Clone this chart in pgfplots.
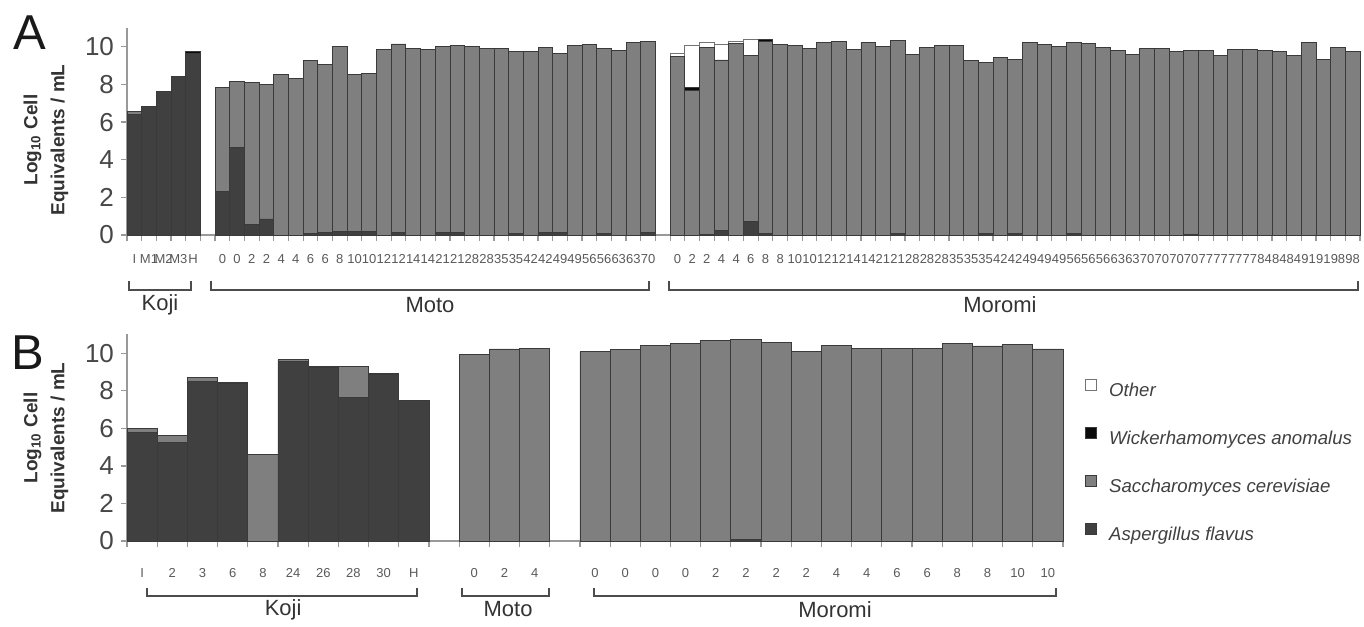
\documentclass[border=0pt]{standalone}
\usepackage{pgfplots}
\pgfplotsset{compat=1.18}
\usepackage{pgfplotstable}
\usepackage{fontspec}
\setmainfont{Liberation Sans}
\definecolor{asp}{HTML}{404040}
\definecolor{sac}{HTML}{7F7F7F}
\definecolor{wic}{HTML}{0A0A0A}
\definecolor{edge}{HTML}{3A3A3A}
\definecolor{txt}{HTML}{333333}
\definecolor{axl}{HTML}{999999}
\tikzset{tk/.style={draw=axl, line width=0.6pt}}

\pgfplotstableread{
x asp sac wic oth
0 6.40 0.18 0 0
1 6.81 0 0 0
2 7.65 0 0 0
3 8.41 0 0 0
4 9.65 0 0.08 0
6 2.30 5.54 0 0
7 4.64 3.54 0 0
8 0.57 7.54 0 0
9 0.85 7.17 0 0
10 0 8.52 0 0
11 0 8.32 0 0
12 0.10 9.19 0 0
13 0.15 8.90 0 0
14 0.20 9.82 0 0
15 0.20 8.34 0 0
16 0.20 8.38 0 0
17 0 9.84 0 0
18 0.15 10.00 0 0
19 0 9.89 0 0
20 0 9.84 0 0
21 0.15 9.88 0 0
22 0.15 9.92 0 0
23 0 10.04 0 0
24 0 9.92 0 0
25 0 9.92 0 0
26 0.10 9.64 0 0
27 0 9.74 0 0
28 0.12 9.84 0 0
29 0.15 9.50 0 0
30 0 10.09 0 0
31 0 10.12 0 0
32 0.10 9.81 0 0
33 0 9.82 0 0
34 0 10.21 0 0
35 0.15 10.13 0 0
37 0 9.47 0 0.18
38 0 7.70 0.15 2.20
39 0.05 9.93 0 0.27
40 0.25 9.05 0 0.85
41 0 10.20 0 0.08
42 0.70 8.86 0 0.83
43 0.10 10.20 0.10 0
44 0 10.14 0 0
45 0 10.09 0 0
46 0 9.91 0 0
47 0 10.21 0 0
48 0 10.27 0 0
49 0 9.86 0 0
50 0 10.21 0 0
51 0 10.04 0 0
52 0.10 10.22 0 0
53 0 9.60 0 0
54 0 9.96 0 0
55 0 10.09 0 0
56 0 10.09 0 0
57 0 9.29 0 0
58 0.10 9.05 0 0
59 0 9.43 0 0
60 0.10 9.23 0 0
61 0 10.21 0 0
62 0 10.14 0 0
63 0 10.04 0 0
64 0.10 10.11 0 0
65 0 10.18 0 0
66 0 9.96 0 0
67 0 9.82 0 0
68 0 9.61 0 0
69 0 9.91 0 0
70 0 9.91 0 0
71 0 9.74 0 0
72 0.05 9.77 0 0
73 0 9.82 0 0
74 0 9.56 0 0
75 0 9.88 0 0
76 0 9.88 0 0
77 0 9.82 0 0
78 0 9.74 0 0
79 0 9.56 0 0
80 0 10.21 0 0
81 0 9.33 0 0
82 0 9.96 0 0
83 0 9.74 0 0
}\tabA

\pgfplotstableread{
x asp sac wic oth
0 5.80 0.20 0 0
1 5.25 0.35 0 0
2 8.50 0.20 0 0
3 8.40 0 0.05 0
4 0 4.62 0 0
5 9.55 0.10 0 0
6 9.25 0 0.05 0
7 7.65 1.67 0 0
8 8.88 0 0.05 0
9 7.51 0 0 0
11 0 9.94 0 0
12 0 10.23 0 0
13 0 10.25 0 0
15 0 10.09 0 0
16 0 10.20 0 0
17 0 10.41 0 0
18 0 10.50 0 0
19 0 10.67 0 0
20 0.10 10.64 0 0
21 0 10.57 0 0
22 0 10.12 0 0
23 0 10.44 0 0
24 0 10.25 0 0
25 0 10.27 0 0
26 0 10.27 0 0
27 0 10.50 0 0
28 0 10.39 0 0
29 0 10.48 0 0
30 0 10.23 0 0
}\tabB

\pgfplotsset{
  panel/.style={
    scale only axis,
    ybar stacked,
    bar width=1,
    ymin=0, ymax=11,
    ytick={0,2,...,10},
    enlargelimits=false,
    axis x line*=bottom,
    axis y line*=left,
    axis line style={-, draw=axl, line width=0.7pt},
    xtick pos=bottom, ytick pos=left,
    tick align=outside,
    major tick length=3pt,
    every tick/.style={draw=axl, line width=0.6pt},
    xticklabels={},
    /pgf/number format/assume math mode=true,
    yticklabel style={font=\fontsize{13}{13}\selectfont, text=black!72},
    clip=false,
    every axis plot post/.append style={
      legend image code/.code={\draw[##1, line width=0.4pt] (0pt,0.3pt) rectangle (5.5pt,5.8pt);}
    },
  },
  aspS/.style={fill=asp, draw=edge, line width=0.4pt},
  sacS/.style={fill=sac, draw=edge, line width=0.4pt},
  wicS/.style={fill=wic, draw=edge, line width=0.4pt},
  othS/.style={fill=white, draw=black!55, line width=0.4pt},
}

\begin{document}
\begin{tikzpicture}
\useasboundingbox (0,0) rectangle (682pt,313pt);

% Panel A
\begin{axis}[panel,
  at={(63.5pt,195.5pt)}, anchor=south west,
  width=616.5pt, height=103.5pt,
  xmin=-0.5, xmax=83.5,
  xtick={-0.5,0.5,...,83.5},
  extra x ticks={0,...,83},
  extra x tick labels={I,M1,M2,M3,H,{},0,0,2,2,4,4,6,6,8,10,10,12,12,14,14,21,21,28,28,35,35,42,42,49,49,56,56,63,63,70,{},0,2,2,4,4,6,8,8,10,10,12,12,14,14,21,21,28,28,28,35,35,35,42,42,49,49,49,56,56,56,63,63,70,70,70,70,77,77,77,77,84,84,84,91,91,98,98},
  extra x tick style={major tick length=0pt, xticklabel style={font=\fontsize{6.5}{6.5}\selectfont, text=black!65, yshift=-6pt}},
]
\addplot[aspS] table[x=x,y=asp]{\tabA};
\addplot[sacS] table[x=x,y=sac]{\tabA};
\addplot[wicS] table[x=x,y=wic]{\tabA};
\addplot[othS] table[x=x,y=oth]{\tabA};
\pgfplotsinvokeforeach{-0.5,0.5,...,83.5}{\draw[tk] (axis cs:#1,0) -- ([yshift=-2.6pt]axis cs:#1,0);}
\pgfplotsinvokeforeach{0,2,...,10}{\draw[tk] (axis cs:-0.5,#1) -- ([xshift=-2.6pt]axis cs:-0.5,#1);}
\node[rotate=90, align=center, font=\fontsize{9.5}{13.5}\selectfont\bfseries, text=txt] at (rel axis cs:-0.0657,0.459) {Log\textsubscript{10} Cell\\Equivalents / mL};
\draw[black!70, line width=0.7pt] (axis cs:-0.36,-2.44) -- (axis cs:-0.36,-2.92) -- (axis cs:3.86,-2.92) -- (axis cs:3.86,-2.44);
\draw[black!70, line width=0.7pt] (axis cs:5.22,-2.44) -- (axis cs:5.22,-2.92) -- (axis cs:35.06,-2.92) -- (axis cs:35.06,-2.44);
\draw[black!70, line width=0.7pt] (axis cs:36.42,-2.44) -- (axis cs:36.42,-2.92) -- (axis cs:83.36,-2.92) -- (axis cs:83.36,-2.44);
\node[font=\fontsize{11}{11}\selectfont, text=txt] at (axis cs:1.75,-3.72) {Koji};
\node[font=\fontsize{11}{11}\selectfont, text=txt] at (axis cs:20.14,-3.72) {Moto};
\node[font=\fontsize{11}{11}\selectfont, text=txt] at (axis cs:58.97,-3.72) {Moromi};
\end{axis}

% Panel B
\begin{axis}[panel,
  at={(63.5pt,42.5pt)}, anchor=south west,
  width=468pt, height=103.25pt,
  xmin=-0.5, xmax=30.5,
  xtick={-0.5,0.5,...,30.5},
  extra x ticks={0,...,30},
  extra x tick labels={I,2,3,6,8,24,26,28,30,H,{},0,2,4,{},0,0,0,0,2,2,2,2,4,4,6,6,8,8,10,10},
  extra x tick style={major tick length=0pt, xticklabel style={font=\fontsize{6.5}{6.5}\selectfont, text=black!65, yshift=-10.3pt}},
  reverse legend,
  legend cell align=left,
  legend style={draw=none, fill=none, at={(1,0.785)}, anchor=north west, xshift=11pt,
    inner sep=0pt, row sep=13.5pt,
    font=\fontsize{9.3}{9.3}\selectfont\itshape, text=black!75,
    nodes={inner sep=0pt, text height=7pt, text depth=2pt},
    /tikz/every even column/.append style={column sep=0pt}},
]
\addplot[aspS] table[x=x,y=asp]{\tabB};
\addlegendentry{\hspace{6pt}Aspergillus flavus}
\addplot[sacS] table[x=x,y=sac]{\tabB};
\addlegendentry{\hspace{6pt}Saccharomyces cerevisiae}
\addplot[wicS] table[x=x,y=wic]{\tabB};
\addlegendentry{\hspace{6pt}Wickerhamomyces anomalus}
\addplot[othS] table[x=x,y=oth]{\tabB};
\addlegendentry{\hspace{6pt}Other}
\pgfplotsinvokeforeach{-0.5,0.5,...,30.5}{\draw[tk] (axis cs:#1,0) -- ([yshift=-2.6pt]axis cs:#1,0);}
\pgfplotsinvokeforeach{0,2,...,10}{\draw[tk] (axis cs:-0.5,#1) -- ([xshift=-2.6pt]axis cs:-0.5,#1);}
\node[rotate=90, align=center, font=\fontsize{9.5}{13.5}\selectfont\bfseries, text=txt] at (rel axis cs:-0.0865,0.499) {Log\textsubscript{10} Cell\\Equivalents / mL};
\draw[black!70, line width=0.7pt] (axis cs:0.16,-2.5) -- (axis cs:0.16,-2.93) -- (axis cs:9.1,-2.93) -- (axis cs:9.1,-2.5);
\draw[black!70, line width=0.7pt] (axis cs:10.6,-2.5) -- (axis cs:10.6,-2.93) -- (axis cs:13.48,-2.93) -- (axis cs:13.48,-2.5);
\draw[black!70, line width=0.7pt] (axis cs:14.97,-2.5) -- (axis cs:14.97,-2.93) -- (axis cs:30.27,-2.93) -- (axis cs:30.27,-2.5);
\node[font=\fontsize{11}{11}\selectfont, text=txt] at (axis cs:4.67,-3.65) {Koji};
\node[font=\fontsize{11}{11}\selectfont, text=txt] at (axis cs:12.12,-3.65) {Moto};
\node[font=\fontsize{11}{11}\selectfont, text=txt] at (axis cs:22.95,-3.65) {Moromi};
\end{axis}

\node[font=\fontsize{24.5}{24.5}\selectfont, text=black!90] at (15pt,296.5pt) {A};
\node[font=\fontsize{24.5}{24.5}\selectfont, text=black!90] at (14pt,136.5pt) {B};
\end{tikzpicture}
\end{document}
